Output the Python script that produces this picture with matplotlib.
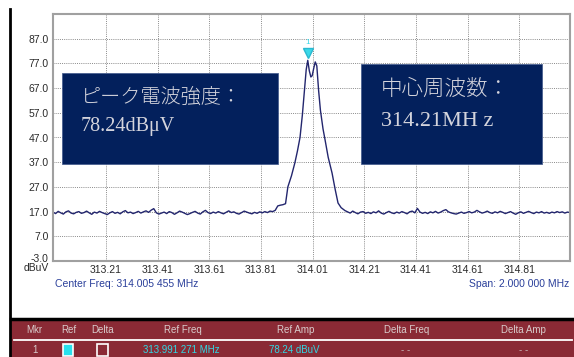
import numpy as np
import matplotlib
matplotlib.use("Agg")
import matplotlib.pyplot as plt
import matplotlib.transforms as mtransforms
from matplotlib.patches import Rectangle
from matplotlib.lines import Line2D

# ---------------- data ----------------
f_start, f_stop = 313.005455, 315.005455
x_ticks = [313.21, 313.41, 313.61, 313.81, 314.01, 314.21, 314.41, 314.61, 314.81]
y_ticks = [-3.0, 7.0, 17.0, 27.0, 37.0, 47.0, 57.0, 67.0, 77.0, 87.0]

noise_left = [16.8, 16.2, 17.1, 16.5, 16.0, 16.9, 17.3, 16.4, 16.1, 16.7,
              17.0, 16.3, 16.6, 17.2, 16.5, 15.9, 16.8, 16.4, 17.1, 16.6,
              16.2, 15.8, 16.5, 17.0, 16.3, 16.7, 16.1, 16.9, 17.4, 16.5,
              16.8, 16.2, 16.6, 17.1, 16.4, 16.9, 17.3, 16.7, 17.6, 18.2,
              16.5, 16.0, 16.4, 16.8, 16.2, 17.0, 16.6, 15.9, 16.5, 17.2,
              16.8, 16.3, 15.8, 16.2, 16.7, 17.1, 16.4, 16.0, 16.9, 17.5,
              16.6, 16.2, 16.8, 16.4, 17.0, 16.5, 16.1, 16.7, 17.3, 16.6,
              16.9, 16.3, 16.0, 16.6, 17.2, 16.8, 16.4, 16.1, 16.7, 16.3,
              16.9, 16.5, 17.0, 16.6, 17.2, 17.0, 17.5, 19.3]

peak_freq = [313.885, 313.895, 313.905, 313.914, 313.928, 313.941, 313.951,
             313.961, 313.970, 313.978, 313.985, 313.991, 313.997, 314.003,
             314.008, 314.014, 314.020, 314.026, 314.033, 314.040, 314.050,
             314.058, 314.070, 314.085, 314.097, 314.108, 314.120, 314.135]
peak_amp = [19.6, 19.8, 20.2, 27.0, 31.5, 36.7, 41.5,
            47.0, 56.0, 66.0, 74.5, 78.24, 74.0, 71.5,
            72.0, 75.0, 77.6, 76.0, 66.0, 58.0, 50.5,
            46.0, 39.0, 32.6, 26.0, 20.5, 18.6, 17.4]

noise_right = [16.9, 16.4, 17.2, 16.6, 16.1, 16.8, 17.0, 16.3, 16.7, 16.2,
               16.9, 16.5, 17.3, 16.4, 16.0, 16.6, 17.1, 16.5, 16.2, 16.8,
               16.4, 17.0, 16.6, 16.1, 16.9, 17.2, 16.5, 18.3, 16.8, 16.3,
               16.7, 16.2, 16.9, 16.5, 17.1, 16.4, 16.8, 17.4, 17.8, 16.9,
               16.5, 16.2, 16.0, 16.4, 16.8, 16.3, 16.6, 17.0, 16.5, 16.8,
               17.5, 16.9, 16.4, 16.7, 17.2, 16.6, 16.3, 16.9, 16.5, 17.1,
               16.7, 16.2, 16.6, 17.0, 16.4, 15.9, 16.5, 16.9, 16.3, 16.7,
               17.1, 16.6, 16.2, 16.8, 16.5, 17.0, 16.4, 16.7, 16.3, 16.8,
               16.5, 17.0, 16.6, 16.9, 16.4, 16.8, 16.6]

marker_freq = 313.991271
marker_amp = 78.24

# sweep grid for the noise segments (instrument's sample points)
freq_left = np.linspace(f_start, 313.875, len(noise_left))
freq_right = np.linspace(314.145, f_stop, len(noise_right))
freq = np.concatenate([freq_left, peak_freq, freq_right])
amp = np.concatenate([noise_left, peak_amp, noise_right])

# ---------------- figure ----------------
W, H = 574, 357
fig = plt.figure(figsize=(W / 100, H / 100), dpi=100)
fig.patch.set_facecolor("white")

def fx(px):
    return px / W

def fy(py):
    return 1 - py / H

L, T, R, B = 53, 14, 570, 261
ax = fig.add_axes([fx(L), fy(B), (R - L) / W, (B - T) / H])
ax.set_xlim(f_start, f_stop)
ax.set_ylim(-3, 97)
ax.plot(freq, amp, color="#23266e", lw=1.0)

ax.set_xticks(x_ticks)
ax.set_xticklabels([f"{v:.2f}" for v in x_ticks])
ax.set_yticks(y_ticks)
ax.set_yticklabels([f"{v:.1f}" for v in y_ticks])
ax.tick_params(length=0, labelsize=7.5, colors="#2a2a2a", pad=3)
for lab in ax.get_xticklabels() + ax.get_yticklabels():
    lab.set_fontfamily("Liberation Sans")
# lift the bottom "-3.0" label slightly so the unit fits underneath
lab0 = ax.get_yticklabels()[0]
lab0.set_transform(lab0.get_transform() +
                   mtransforms.ScaledTranslation(0, 3 / 100, fig.dpi_scale_trans))
ax.grid(True, color="#8a8a8a", ls=(0, (1, 1.2)), lw=0.7)
for s in ax.spines.values():
    s.set_color("#a0a0a0")
    s.set_linewidth(1.5)

# marker
ax.plot([marker_freq], [81.2], marker="v", ms=7, color="#3ad8e8", mec="#2ab8d0")
ax.text(marker_freq, 85.5, "1", color="#3ad8e8", fontsize=6, ha="center",
        va="center", family="Liberation Sans")

# axis annotations
fig.text(fx(49), fy(268), "dBuV", fontsize=7.5, color="#2a2a2a", ha="right",
         va="center", family="Liberation Sans")
fig.text(fx(55), fy(284), "Center Freq: 314.005 455 MHz", fontsize=7.5,
         color="#2a3f9a", ha="left", va="center", family="Liberation Sans")
fig.text(fx(569), fy(284), "Span: 2.000 000 MHz", fontsize=7.5,
         color="#2a3f9a", ha="right", va="center", family="Liberation Sans")

# info boxes
box_col = "#03205c"
txt_col = "#d4d4dc"
jp = ["Liberation Serif", "Noto Sans CJK JP"]
fig.patches.append(Rectangle((fx(62), fy(164)), (278 - 62) / W, (164 - 73) / H,
                             transform=fig.transFigure, facecolor=box_col,
                             edgecolor="#4a6090", lw=0.6, zorder=5))
fig.patches.append(Rectangle((fx(361), fy(164)), (542 - 361) / W, (164 - 64) / H,
                             transform=fig.transFigure, facecolor=box_col,
                             edgecolor="#4a6090", lw=0.6, zorder=5))
fig.text(fx(81), fy(98), "ピーク電波強度：", fontsize=14.5, color=txt_col,
         family=jp, weight="light", ha="left", va="center", zorder=6)
fig.text(fx(81), fy(126), "78.24dBμV", fontsize=14.5, color=txt_col,
         family=jp, ha="left", va="center", zorder=6)
fig.text(fx(381), fy(90), "中心周波数：", fontsize=15.5, color=txt_col,
         family=jp, weight="light", ha="left", va="center", zorder=6)
fig.text(fx(381), fy(122), "314.21MH z", fontsize=16, color=txt_col,
         family=jp, ha="left", va="center", zorder=6)

# left black bar
fig.add_artist(Line2D([fx(10), fx(10)], [fy(9), fy(357)], color="black", lw=2,
                      transform=fig.transFigure))

# marker table
tbl_col = "#8a2a35"
fig.patches.append(Rectangle((fx(11), 0), (W - 11) / W, (357 - 319) / H,
                             transform=fig.transFigure, facecolor=tbl_col,
                             edgecolor="none", zorder=1))
fig.add_artist(Line2D([fx(11), 1], [fy(319), fy(319)], color="black", lw=2.5,
                      transform=fig.transFigure))
fig.add_artist(Line2D([fx(14), fx(572)], [fy(339.5), fy(339.5)], color="white",
                      lw=1.3, transform=fig.transFigure))

headers = ["Mkr", "Ref", "Delta", "Ref Freq", "Ref Amp", "Delta Freq", "Delta Amp"]
header_x = [34, 69, 103, 183, 296, 407, 523]
for h, xx in zip(headers, header_x):
    fig.text(fx(xx), fy(330), h, fontsize=7, color="#d8cccc", ha="center",
             va="center", family="Liberation Sans")

row_y = 350
fig.text(fx(35), fy(row_y), "1", fontsize=7, color="#d8cccc", ha="center",
         va="center", family="Liberation Sans")
fig.patches.append(Rectangle((fx(63), fy(row_y + 6)), 10 / W, 12 / H,
                             transform=fig.transFigure, facecolor="#28e0ec",
                             edgecolor="white", lw=1.2, zorder=3))
fig.patches.append(Rectangle((fx(97), fy(row_y + 6)), 11 / W, 12 / H,
                             transform=fig.transFigure, facecolor="none",
                             edgecolor="white", lw=1.2, zorder=3))
fig.text(fx(181), fy(row_y), "313.991 271 MHz", fontsize=7, color="#30d8e4",
         ha="center", va="center", family="Liberation Sans")
fig.text(fx(294), fy(row_y), "78.24 dBuV", fontsize=7, color="#30d8e4",
         ha="center", va="center", family="Liberation Sans")
fig.text(fx(406), fy(row_y), "- -", fontsize=7, color="#c8b8b8",
         ha="center", va="center", family="Liberation Sans")
fig.text(fx(524), fy(row_y), "- -", fontsize=7, color="#c8b8b8",
         ha="center", va="center", family="Liberation Sans")

fig.savefig("out.png", dpi=100)
